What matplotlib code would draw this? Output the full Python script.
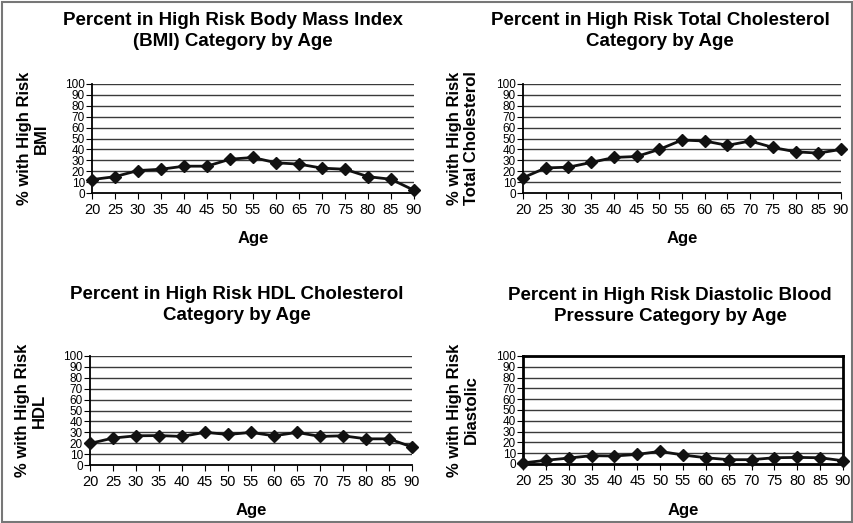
import matplotlib.pyplot as plt
from matplotlib.patches import Rectangle

plt.rcParams['font.family'] = ['Liberation Sans', 'DejaVu Sans']

ages = [20, 25, 30, 35, 40, 45, 50, 55, 60, 65, 70, 75, 80, 85, 90]
bmi = [12.3, 15, 20.6, 21.8, 24.6, 24.6, 31, 32.6, 27.7, 26.5, 22.8, 21.8, 15, 12.6, 2.5]
total_chol = [14, 23, 23.7, 28, 32.6, 33.5, 40, 48.6, 47.7, 43.7, 47.7, 41.8, 37.8, 36.6, 40]
hdl = [19.8, 24.7, 26.8, 27, 26.2, 30, 28, 29.9, 26.8, 29.9, 26.2, 26.8, 24, 24, 16.5]
diastolic = [1, 3.4, 5.5, 7.7, 7.4, 8.9, 11.7, 8.3, 5.8, 4, 4, 5.8, 6.1, 5.8, 3]

titles = ["Percent in High Risk Body Mass Index\n(BMI) Category by Age",
          "Percent in High Risk Total Cholesterol\nCategory by Age",
          "Percent in High Risk HDL Cholesterol\nCategory by Age",
          "Percent in High Risk Diastolic Blood\nPressure Category by Age"]
ylabels = ["% with High Risk\nBMI", "% with High Risk\nTotal Cholesterol",
           "% with High Risk\nHDL", "% with High Risk\nDiastolic"]
series = [bmi, total_chol, hdl, diastolic]

W, H = 854, 523
fig = plt.figure(figsize=(W / 100, H / 100), dpi=100)
fig.patches.append(Rectangle((0.002, 0.002), 0.996, 0.995, transform=fig.transFigure,
                             fill=False, edgecolor='#777777', lw=1.5))

# (left, right, top, bottom) of plot areas in pixels
boxes = [(92, 414, 84, 193), (523, 841, 84, 193), (90, 412, 356, 465), (523, 843, 356, 464)]
title_pos = [(233, 31), (660, 31), (237, 305), (670, 306)]
ylab_x = [33, 463, 31, 463]
xlab_y = [238, 238, 510, 510]

for i, (vals, (l, r, t, b)) in enumerate(zip(series, boxes)):
    ax = fig.add_axes([l / W, 1 - b / H, (r - l) / W, (b - t) / H])
    ax.plot(ages, vals, color='#111111', lw=2, marker='D', markersize=6.5, clip_on=False, zorder=3)
    ax.set_xlim(20, 90)
    ax.set_ylim(0, 100)
    ax.set_xticks(ages)
    ax.set_yticks(range(0, 101, 10))
    ax.tick_params(axis='x', labelsize=10.5, length=4, direction='out', pad=3)
    ax.tick_params(axis='y', labelsize=8.5, length=4, direction='out', pad=1)
    for y in range(10, 101, 10):
        ax.axhline(y, color='#3a3a3a', lw=1, zorder=1)
    if i == 3:
        for s in ax.spines.values():
            s.set_linewidth(2)
            s.set_color('black')
    else:
        ax.spines['top'].set_visible(False)
        ax.spines['right'].set_visible(False)
        ax.spines['left'].set_linewidth(1.3)
        ax.spines['bottom'].set_linewidth(1.3)
    cx, cy = title_pos[i]
    fig.text(cx / W, 1 - cy / H, titles[i], ha='center', va='center', fontsize=13.5,
             fontweight='bold', linespacing=1.3)
    fig.text(ylab_x[i] / W, 1 - (t + b) / 2 / H, ylabels[i], ha='center', va='center',
             rotation=90, fontsize=12, fontweight='bold', linespacing=1.15)
    fig.text((l + r) / 2 / W, 1 - xlab_y[i] / H, "Age", ha='center', va='center',
             fontsize=12, fontweight='bold')

fig.savefig('out.png', dpi=100)
